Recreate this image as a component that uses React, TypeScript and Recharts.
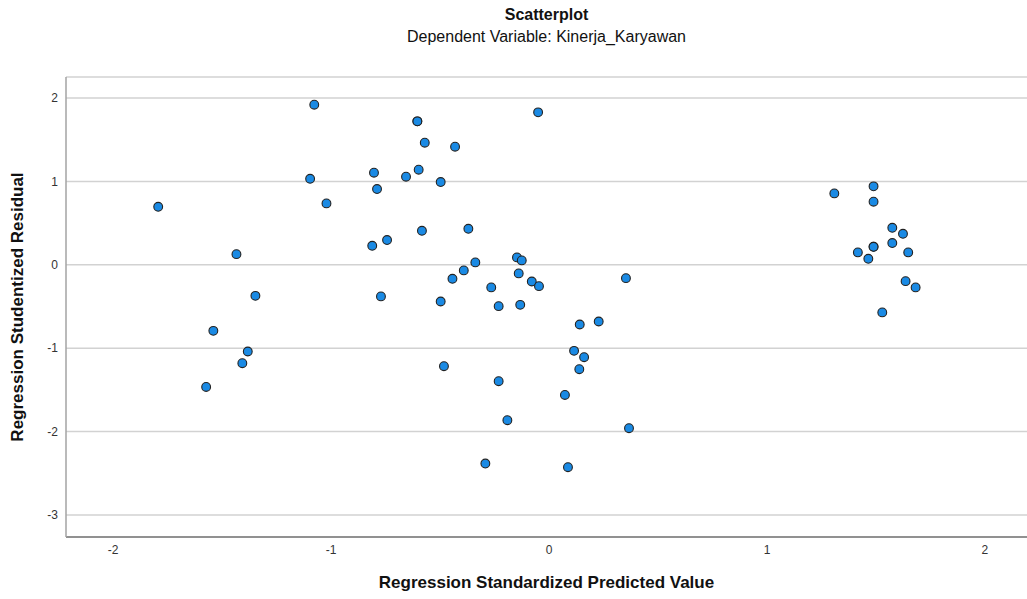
import React from "react";
import { ScatterChart, Scatter, XAxis, YAxis, CartesianGrid } from "recharts";

// standardized predicted value (x) and studentized residual (y)
const predicted = [
  -1.793, -1.077, -1.096, -1.021, -1.434, -1.347, -1.54, -1.382, -1.407, -1.573,
  -0.604, -0.604, -0.05, -0.57, -0.431, -0.803, -0.656, -0.598, -0.497, -0.789,
  -0.583, -0.37, -0.811, -0.743, -0.147, -0.125, -0.338, -0.391, -0.443, -0.139,
  -0.079, -0.046, -0.265, 0.353, -0.771, -0.497, -0.231, -0.132, 0.141, 0.228,
  0.115, 0.161, 0.139, -0.482, -0.231, 0.073, -0.191, 0.367, -0.292, 0.087,
  1.309, 1.489, 1.489, 1.575, 1.624, 1.575, 1.489, 1.489, 1.417, 1.465,
  1.648, 1.636, 1.682, 1.529,
];
const residual = [
  0.696, 1.921, 1.032, 0.737, 0.128, -0.372, -0.792, -1.04, -1.18, -1.465,
  1.721, 1.721, 1.829, 1.465, 1.417, 1.105, 1.057, 1.141, 0.993, 0.909,
  0.408, 0.432, 0.228, 0.297, 0.089, 0.053, 0.029, -0.067, -0.168, -0.103,
  -0.2, -0.256, -0.271, -0.16, -0.379, -0.44, -0.496, -0.48, -0.716, -0.68,
  -1.032, -1.108, -1.252, -1.216, -1.396, -1.561, -1.864, -1.96, -2.384, -2.428,
  0.857, 0.941, 0.757, 0.444, 0.372, 0.261, 0.216, 0.216, 0.149, 0.072,
  0.149, -0.196, -0.271, -0.571,
];
const xTicks = [-2, -1, 0, 1, 2];
const yTicks = [-3, -2, -1, 0, 1, 2];

const data = predicted.map((x, i) => ({ x, y: residual[i] }));

const font = "'Liberation Sans', Arial, sans-serif";

const Dot = (props: any) => (
  <circle cx={props.cx} cy={props.cy} r={4.4} fill="#1a8ae4" stroke="#222" strokeWidth={1.1} />
);

export default function App() {
  return (
    <div style={{ position: "absolute", left: 0, top: 0, width: 1027, height: 599, fontFamily: font, background: "#fff" }}>
      <div style={{ position: "absolute", left: 66, width: 961, top: 5, textAlign: "center", fontSize: 16, fontWeight: "bold", color: "#111", lineHeight: "20px" }}>
        Scatterplot
      </div>
      <div style={{ position: "absolute", left: 66, width: 961, top: 27, textAlign: "center", fontSize: 16, color: "#111", lineHeight: "20px" }}>
        Dependent Variable: Kinerja_Karyawan
      </div>
      <ScatterChart width={1027} height={599} margin={{ top: 77, right: 0, bottom: 0, left: 0 }}>
        <CartesianGrid vertical={false} stroke="#d2d2d2" strokeWidth={1.5} />
        <XAxis
          type="number"
          dataKey="x"
          domain={[-2.216, 2.193]}
          ticks={xTicks}
          height={62}
          tickLine={false}
          axisLine={{ stroke: "#777", strokeWidth: 1.5 }}
          tick={{ fontSize: 12, fill: "#333", fontFamily: font }}
          allowDataOverflow
        />
        <YAxis
          type="number"
          dataKey="y"
          domain={[-3.265, 2.253]}
          ticks={yTicks}
          width={66}
          tickLine={false}
          axisLine={{ stroke: "#a3a3a3", strokeWidth: 1.5 }}
          tick={{ fontSize: 12, fill: "#333", fontFamily: font }}
          allowDataOverflow
        />
        <Scatter data={data} shape={Dot} isAnimationActive={false} />
      </ScatterChart>
      <div style={{ position: "absolute", left: 66, width: 961, top: 573, textAlign: "center", fontSize: 17, fontWeight: "bold", color: "#111", lineHeight: "20px" }}>
        Regression Standardized Predicted Value
      </div>
      <div
        style={{
          position: "absolute",
          left: 18,
          top: 307,
          width: 400,
          marginLeft: -200,
          marginTop: -10,
          textAlign: "center",
          fontSize: 17,
          fontWeight: "bold",
          color: "#111",
          transform: "rotate(-90deg)",
          lineHeight: "20px",
        }}
      >
        Regression Studentized Residual
      </div>
    </div>
  );
}
